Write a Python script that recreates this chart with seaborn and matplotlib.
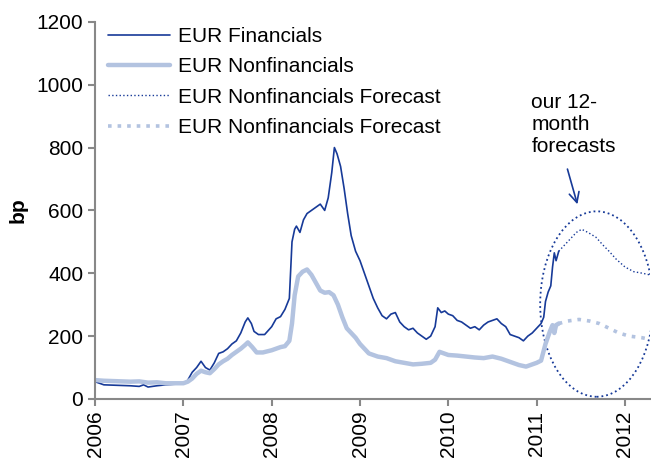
import pandas as pd
import matplotlib.pyplot as plt
import seaborn as sns
from matplotlib.patches import Ellipse

# data (decimal years, bp)
fin_x = [2006.00, 2006.05, 2006.10, 2006.20, 2006.30, 2006.40, 2006.50, 2006.55, 2006.60, 2006.70,
         2006.80, 2006.90, 2007.00, 2007.05, 2007.10, 2007.15, 2007.20, 2007.25, 2007.30, 2007.35,
         2007.40, 2007.45, 2007.50, 2007.55, 2007.60, 2007.65, 2007.70, 2007.73, 2007.77, 2007.80,
         2007.85, 2007.92, 2008.00, 2008.05, 2008.10, 2008.15, 2008.20, 2008.23, 2008.26, 2008.28,
         2008.32, 2008.36, 2008.40, 2008.45, 2008.50, 2008.55, 2008.60, 2008.64, 2008.68, 2008.71,
         2008.74, 2008.78, 2008.82, 2008.86, 2008.90, 2008.95, 2009.00, 2009.05, 2009.10, 2009.15,
         2009.20, 2009.25, 2009.30, 2009.35, 2009.40, 2009.45, 2009.50, 2009.55, 2009.60, 2009.65,
         2009.70, 2009.75, 2009.80, 2009.85, 2009.88, 2009.92, 2009.96, 2010.00, 2010.05, 2010.10,
         2010.15, 2010.20, 2010.25, 2010.30, 2010.35, 2010.40, 2010.45, 2010.50, 2010.55, 2010.60,
         2010.65, 2010.70, 2010.75, 2010.80, 2010.85, 2010.90, 2010.95, 2011.00, 2011.05, 2011.08,
         2011.10, 2011.13, 2011.16, 2011.18, 2011.20, 2011.22, 2011.25]
fin_y = [55, 50, 45, 44, 43, 42, 40, 45, 38, 42,
         45, 47, 48, 60, 85, 100, 120, 100, 92, 115,
         145, 150, 160, 175, 185, 210, 245, 258, 240, 215,
         205, 205, 230, 255, 262, 285, 320, 500, 540, 550,
         530, 570, 590, 600, 610, 620, 600, 640, 720, 800,
         780, 740, 670, 590, 520, 470, 440, 400, 360, 320,
         290, 265, 255, 270, 275, 245, 230, 220, 225, 210,
         200, 190, 200, 230, 290, 275, 280, 270, 265, 250,
         245, 235, 225, 230, 220, 235, 245, 250, 255, 240,
         230, 205, 200, 195, 185, 200, 210, 225, 240, 260,
         310, 340, 360, 420, 465, 440, 470]

nonfin_x = [2006.00, 2006.10, 2006.20, 2006.30, 2006.40, 2006.50, 2006.60, 2006.70, 2006.80, 2006.90,
            2007.00, 2007.05, 2007.10, 2007.15, 2007.20, 2007.25, 2007.30, 2007.35, 2007.40, 2007.45,
            2007.50, 2007.55, 2007.60, 2007.65, 2007.70, 2007.73, 2007.78, 2007.83, 2007.90, 2008.00,
            2008.05, 2008.10, 2008.15, 2008.20, 2008.23, 2008.26, 2008.30, 2008.35, 2008.40, 2008.45,
            2008.50, 2008.55, 2008.60, 2008.65, 2008.70, 2008.75, 2008.80, 2008.85, 2008.90, 2008.95,
            2009.00, 2009.05, 2009.10, 2009.15, 2009.20, 2009.30, 2009.40, 2009.50, 2009.60, 2009.70,
            2009.80, 2009.85, 2009.90, 2009.95, 2010.00, 2010.10, 2010.20, 2010.30, 2010.40, 2010.50,
            2010.60, 2010.70, 2010.80, 2010.88, 2010.95, 2011.00, 2011.05, 2011.10, 2011.15, 2011.18,
            2011.20, 2011.22, 2011.25]
nonfin_y = [60, 58, 57, 56, 55, 56, 52, 53, 50, 50,
            50, 55, 65, 80, 90, 85, 82, 95, 110, 120,
            128, 140, 150, 160, 172, 180, 165, 148, 148, 155,
            160, 165, 168, 185, 240, 330, 390, 405, 412, 395,
            370, 345, 338, 340, 330, 300, 260, 225, 210, 195,
            175, 160, 145, 140, 135, 130, 120, 115, 110, 112,
            115, 125, 150, 145, 140, 138, 135, 132, 130, 135,
            128, 118, 108, 103, 110, 115, 122, 175, 215, 235,
            210, 235, 240]

fin_fc_x = [2011.25, 2011.35, 2011.45, 2011.51, 2011.58, 2011.67, 2011.75, 2011.82, 2011.90, 2012.00,
            2012.10, 2012.20, 2012.28]
fin_fc_y = [470, 500, 530, 540, 530, 515, 490, 470, 445, 420, 405, 400, 395]

nonfin_fc_x = [2011.25, 2011.35, 2011.48, 2011.60, 2011.71, 2011.82, 2011.93, 2012.05, 2012.19, 2012.28]
nonfin_fc_y = [240, 248, 253, 248, 240, 225, 210, 200, 195, 190]

years = [2006, 2007, 2008, 2009, 2010, 2011, 2012]

dark = '#173a98'
light = '#b3c3e0'

sns.set_style('ticks')
plt.rcParams['font.family'] = ['Liberation Sans', 'DejaVu Sans']
plt.rcParams['font.size'] = 15
plt.rcParams['text.color'] = 'black'
plt.rcParams['axes.labelcolor'] = 'black'

fig = plt.figure(figsize=(6.51, 4.65), dpi=100)
ax = fig.add_axes([0.146, 0.142, 0.852, 0.811])

sns.lineplot(x=fin_x, y=fin_y, color=dark, lw=1.2, label='EUR Financials', ax=ax)
sns.lineplot(x=nonfin_x, y=nonfin_y, color=light, lw=3.2, label='EUR Nonfinancials', ax=ax)
sns.lineplot(x=fin_fc_x, y=fin_fc_y, color=dark, lw=1.0, ls=':', label='EUR Nonfinancials Forecast', ax=ax)
sns.lineplot(x=nonfin_fc_x, y=nonfin_fc_y, color=light, lw=2.6, ls=':',
             label='EUR Nonfinancials Forecast', ax=ax)

# dotted ring round the forecasts
ax.add_patch(Ellipse((2011.68, 302), 1.28, 590, fill=False, ls=':', lw=1.3, edgecolor=dark))

ax.annotate('', xy=(2011.47, 611), xytext=(2011.34, 740),
            arrowprops=dict(arrowstyle='->', color=dark, lw=1.2, mutation_scale=18))
ax.text(2010.94, 975, 'our 12-\nmonth\nforecasts', va='top', ha='left', fontsize=15, color='black')

ax.set_xlim(2006, 2012.28)
ax.set_ylim(0, 1200)
ax.set_yticks(range(0, 1201, 200))
ax.set_xticks(years)
ax.set_xticklabels([str(y) for y in years], rotation=90)
ax.set_ylabel('bp', fontweight='bold', labelpad=6)
ax.set_xlabel('')

sns.despine(ax=ax)
for s in ['left', 'bottom']:
    ax.spines[s].set_color('#888888')
    ax.spines[s].set_linewidth(1.5)
ax.tick_params(axis='both', direction='out', length=5, width=1.5, color='#888888',
               labelcolor='black', labelsize=15)

ax.legend(loc='upper left', bbox_to_anchor=(0.0, 1.02), frameon=False, handlelength=3.0,
          handletextpad=0.4, labelspacing=0.55, fontsize=15, borderaxespad=0.2)

plt.savefig('out.png', dpi=100)
